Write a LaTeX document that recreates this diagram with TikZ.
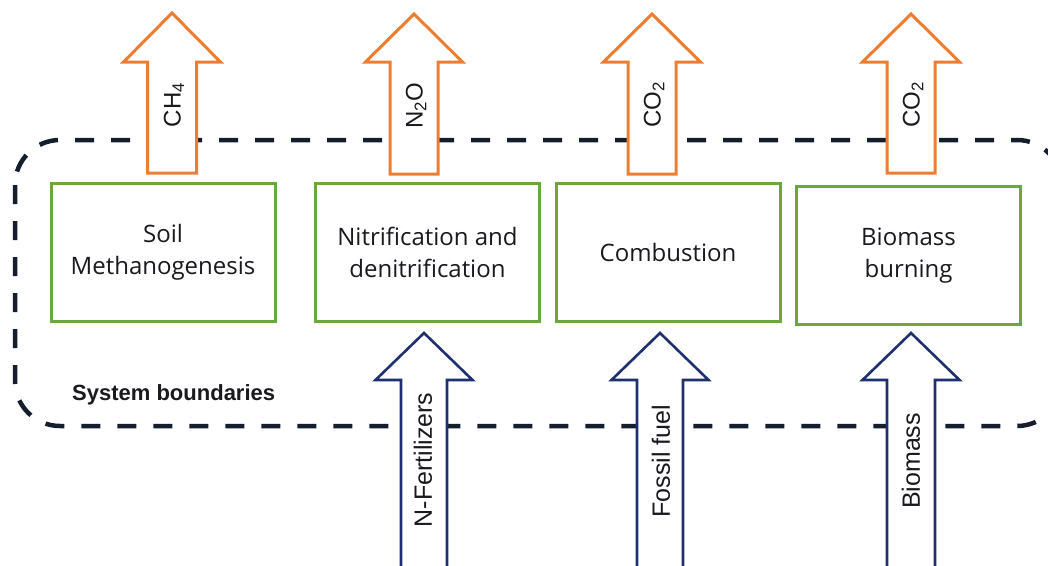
\documentclass[tikz,border=0pt]{standalone}
\usepackage{fontspec}
\setmainfont{Liberation Sans}
\newfontfamily\boxfont{Open Sans}
\definecolor{boxgreen}{RGB}{106,168,60}
\definecolor{emitorange}{RGB}{237,125,49}
\definecolor{inblue}{RGB}{30,48,110}
\definecolor{boundary}{RGB}{20,30,45}
\definecolor{txt}{RGB}{25,25,30}
\tikzset{
  procbox/.style={draw=boxgreen, line width=3pt, fill=white, align=center, inner sep=0pt,
    minimum width=224pt, minimum height=138pt, text=txt,
    font=\boxfont\fontsize{24}{32}\selectfont},
  outarrow/.style={draw=emitorange, line width=3pt, fill=white, line join=miter},
  inarrow/.style={draw=inblue, line width=2.6pt, fill=white, line join=miter},
  arrowlabel/.style={rotate=90, inner sep=0pt, text=txt, font=\fontsize{25}{30}\selectfont},
  gaslabel/.style={rotate=90, inner sep=0pt, text=txt, font=\fontsize{24}{28}\selectfont},
  boundaryline/.style={draw=boundary, line width=4.5pt, dash pattern=on 19pt off 17pt, rounded corners=45pt},
  titlelabel/.style={inner sep=0pt, text=txt, font=\bfseries\fontsize{22}{26}\selectfont}
}
% #1 style, #2 centre x, #3 tip y, #4 head base y, #5 bottom y, #6 shaft half width
\newcommand\fatup[6]{%
  \draw[#1] ({#2-#6},#5) -- ({#2-#6},#4) -- ({#2-48.5},#4) -- (#2,#3)
    -- ({#2+48.5},#4) -- ({#2+#6},#4) -- ({#2+#6},#5) -- cycle;}
\begin{document}
\begin{tikzpicture}[x=1pt,y=-1pt]
  \useasboundingbox (0,0) rectangle (1048,565);
  \clip (0,0) rectangle (1048,565);
  \fill[white] (0,0) rectangle (1048,565);

  % system boundary
  \draw[boundaryline] (15,140) rectangle (1062,426);
  \node[titlelabel, anchor=west] (sysb) at (72,395) {System boundaries};

  % process boxes
  \node[procbox] (soil) at (163,252) {Soil\\Methanogenesis};
  \node[procbox] (nitr) at (427.5,252.5) {Nitrification and\\denitrification};
  \node[procbox] (comb) at (668,252.5) {Combustion};
  \node[procbox] (bioburn) at (908.5,255.5) {Biomass\\burning};

  % emission arrows
  \fatup{outarrow}{172}{13}{62}{173}{24.5}
  \fatup{outarrow}{414}{14}{62}{174}{24}
  \fatup{outarrow}{652}{14}{62}{174}{24}
  \fatup{outarrow}{911}{14}{62}{173}{24}
  \node[gaslabel] (ch4) at (174,105) {CH\textsubscript{4}};
  \node[gaslabel] (n2o) at (416,106) {N\textsubscript{2}O};
  \node[gaslabel] (co2a) at (654,105) {CO\textsubscript{2}};
  \node[gaslabel] (co2b) at (913,105) {CO\textsubscript{2}};

  % input arrows
  \fatup{inarrow}{424}{333}{380}{590}{23}
  \fatup{inarrow}{660}{333}{380}{590}{23}
  \fatup{inarrow}{911}{333}{380}{590}{24}
  \node[arrowlabel] (nfert) at (423,460) {N-Fertilizers};
  \node[arrowlabel] (fossil) at (661,461) {Fossil fuel};
  \node[arrowlabel] (biomass) at (911,461) {Biomass};
\end{tikzpicture}
\end{document}
